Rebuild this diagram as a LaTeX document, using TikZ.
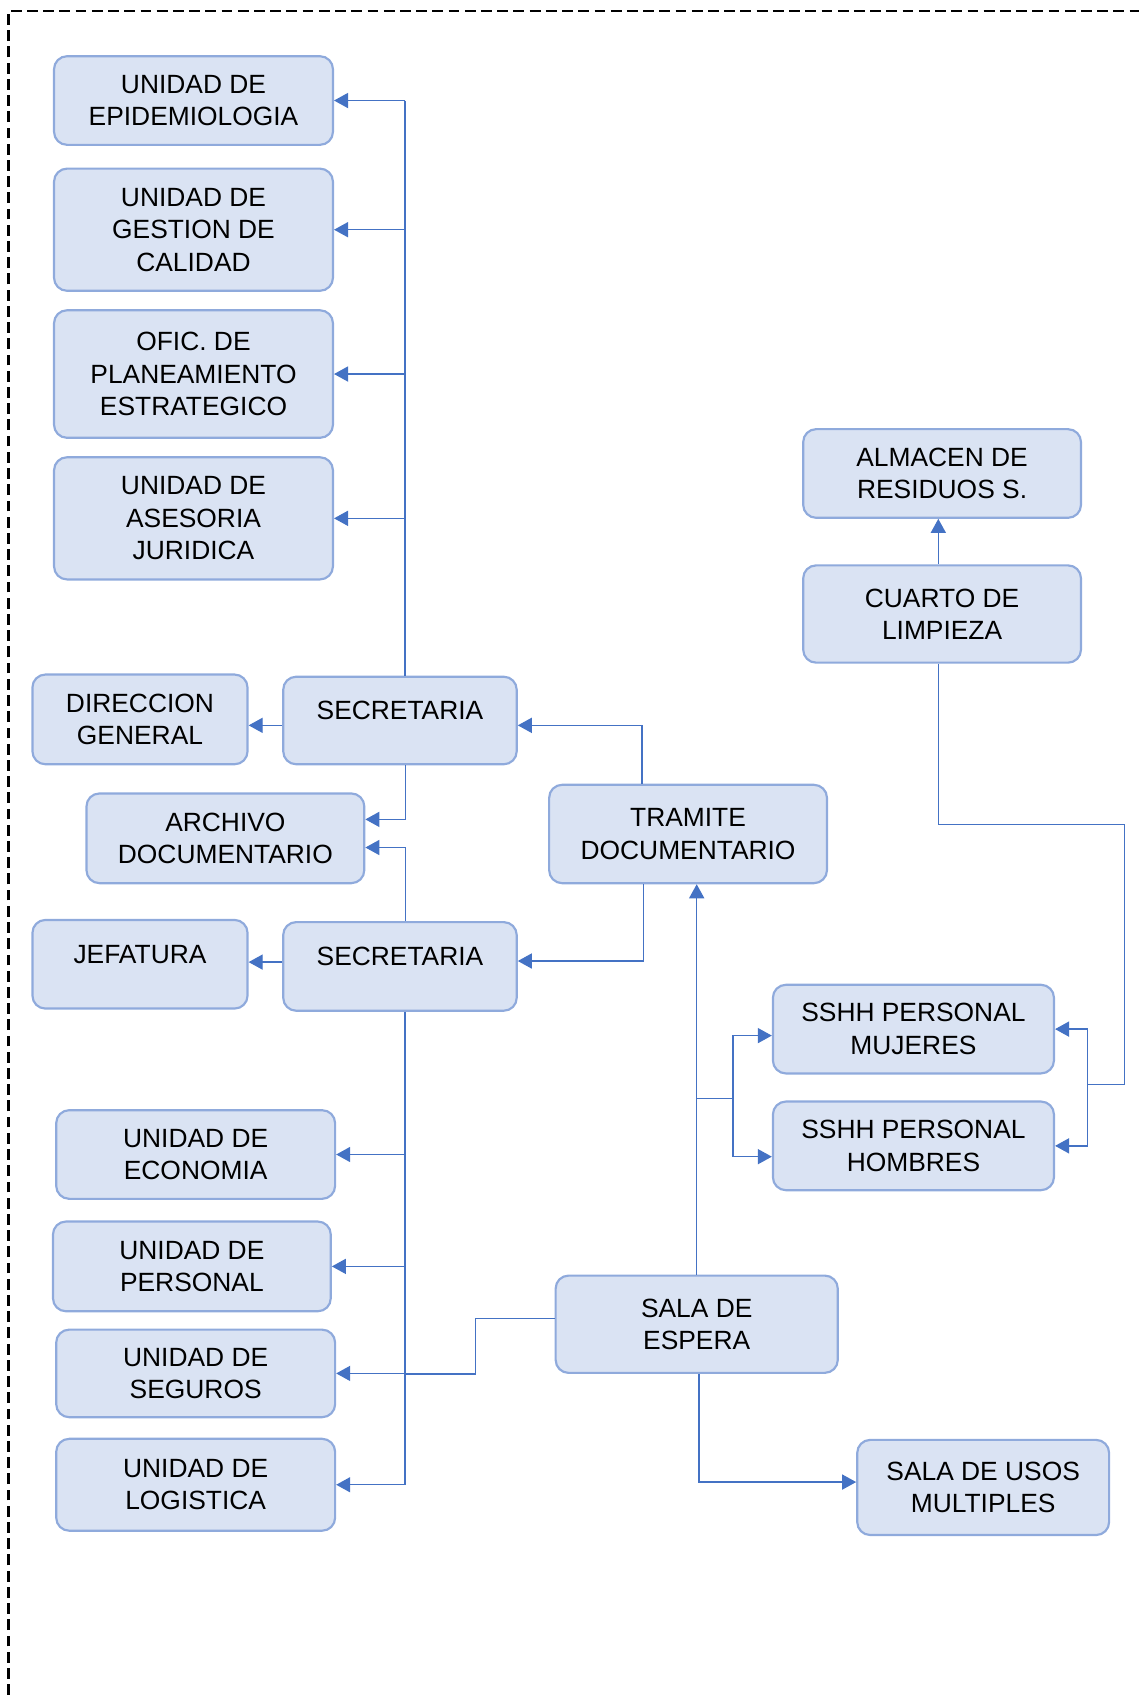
\documentclass[tikz,border=0pt]{standalone}
\usepackage{fontspec}
\setmainfont{Liberation Sans}
\usetikzlibrary{arrows.meta}
\definecolor{boxfill}{RGB}{218,227,243}
\definecolor{boxline}{RGB}{143,170,220}
\definecolor{linkblue}{RGB}{68,114,196}

\begin{document}
\begin{tikzpicture}[x=0.5pt,y=-0.5pt,
  area/.style={draw=boxline,fill=boxfill,line width=1pt,rounded corners=6pt,
    align=center,inner sep=0pt,font=\fontsize{12.2}{15}\selectfont,
    execute at begin node={\rule{0pt}{12pt}}},
  raised/.style={text depth=13pt},
  link/.style={draw=linkblue,line width=0.6pt},
  arr/.style={link,-{Triangle[length=6.5pt,width=7pt]}},
  bus/.style={draw=linkblue,line width=0.9pt}]
\useasboundingbox (0,0) rectangle (1054,1568);

% Frame
\draw[line width=1.2pt,dash pattern=on 5pt off 2.5pt] (8,1568) -- (8,10) -- (1054,10);

% Upper units
\node[area,minimum width=129pt,minimum height=41pt] (epi) at (179,93) {UNIDAD DE\\EPIDEMIOLOGIA};
\node[area,minimum width=129pt,minimum height=56.5pt] (gestion) at (179,212.5) {UNIDAD DE\\GESTION DE\\CALIDAD};
\node[area,minimum width=129pt,minimum height=59pt] (plane) at (179,346) {OFIC. DE\\PLANEAMIENTO\\ESTRATEGICO};
\node[area,minimum width=129pt,minimum height=56.5pt] (asesoria) at (179,479.5) {UNIDAD DE\\ASESORIA\\JURIDICA};

% Direction and secretaries
\node[area,minimum width=99.5pt,minimum height=41.5pt] (direccion) at (129.5,665.5) {DIRECCION\\GENERAL};
\node[area,raised,minimum width=108pt,minimum height=40.5pt] (sec1) at (370,666.5) {SECRETARIA};
\node[area,minimum width=128.5pt,minimum height=41.5pt] (archivo) at (208.5,775.5) {ARCHIVO\\DOCUMENTARIO};
\node[area,raised,minimum width=99.5pt,minimum height=41pt] (jefatura) at (129.5,892) {JEFATURA};
\node[area,raised,minimum width=108pt,minimum height=41pt] (sec2) at (370,894) {SECRETARIA};
\node[area,minimum width=128.5pt,minimum height=45.5pt] (tramite) at (636.5,771.5) {TRAMITE\\DOCUMENTARIO};

% Right side
\node[area,minimum width=128.5pt,minimum height=41pt] (almacen) at (871.5,438) {ALMACEN DE\\RESIDUOS S.};
\node[area,minimum width=128.5pt,minimum height=45pt] (cuarto) at (871.5,568) {CUARTO DE\\LIMPIEZA};
\node[area,minimum width=130pt,minimum height=41pt] (mujeres) at (845,952) {SSHH PERSONAL\\MUJERES};
\node[area,minimum width=130pt,minimum height=41pt] (hombres) at (845,1060) {SSHH PERSONAL\\HOMBRES};
\node[area,minimum width=130.5pt,minimum height=45pt] (espera) at (644.5,1225) {SALA DE\\ESPERA};
\node[area,minimum width=116.5pt,minimum height=44pt] (usos) at (909.5,1376) {SALA DE USOS\\MULTIPLES};

% Lower units
\node[area,minimum width=129pt,minimum height=41pt] (economia) at (181,1068) {UNIDAD DE\\ECONOMIA};
\node[area,minimum width=128.5pt,minimum height=41.5pt] (personal) at (177.5,1171.5) {UNIDAD DE\\PERSONAL};
\node[area,minimum width=129pt,minimum height=40.5pt] (seguros) at (181,1270.5) {UNIDAD DE\\SEGUROS};
\node[area,minimum width=129pt,minimum height=42.5pt] (logistica) at (181,1373.5) {UNIDAD DE\\LOGISTICA};

% Buses
\coordinate (ubus) at ([xshift=2.5pt]sec1.north);
\coordinate (lbus) at ([xshift=2.5pt]sec2.south);
\draw[bus] (ubus) -- (ubus |- epi.east);
\foreach \n in {epi,gestion,plane,asesoria}
  \draw[arr] (ubus |- \n.east) -- (\n.east);
\draw[bus] (lbus) -- (lbus |- logistica.east);
\foreach \n in {economia,personal,seguros,logistica}
  \draw[arr] (lbus |- \n.east) -- (\n.east);

% Secretaries
\draw[arr] ([yshift=-2.25pt]sec1.west) -- ([yshift=-2.25pt]sec1.west -| direccion.east);
\draw[arr] ([yshift=2pt]sec2.west) -- ([yshift=2pt]sec2.west -| jefatura.east);
\draw[arr] ([xshift=2.5pt]sec1.south) |- ([yshift=8.75pt]archivo.east);
\draw[arr] ([xshift=2.5pt]sec2.north) |- ([yshift=-4.25pt]archivo.east);
\draw[arr] ([xshift=-21.25pt]tramite.north) |- ([yshift=-2.25pt]sec1.east);
\draw[arr] ([xshift=-20.75pt]tramite.south) |- ([yshift=2.5pt]sec2.east);

% Waiting room
\coordinate (ljoin) at (678,1016);
\coordinate (sjog) at (440,1271);
\draw[arr] (espera.north) -- (espera.north |- tramite.south);
\draw[link] (espera.north |- ljoin) -- (ljoin);
\draw[arr] (ljoin) |- ([yshift=-3pt]mujeres.west);
\draw[arr] (ljoin) |- ([yshift=-5pt]hombres.west);
\draw[link] ([yshift=2.5pt]espera.west) -| (sjog) -- (lbus |- sjog);
\draw[arr] ([xshift=1pt]espera.south) |- ([yshift=2.5pt]usos.west);

% Cleaning
\coordinate (rturn) at (1040,763);
\coordinate (rjoin) at (1006,1003);
\draw[arr] ([xshift=-1.75pt]cuarto.north) -- ([xshift=-1.75pt]almacen.south);
\draw[link] ([xshift=-1.75pt]cuarto.south) |- (rturn) |- (rjoin);
\draw[arr] (rjoin) |- (mujeres.east);
\draw[arr] (rjoin) |- (hombres.east);
\end{tikzpicture}
\end{document}
